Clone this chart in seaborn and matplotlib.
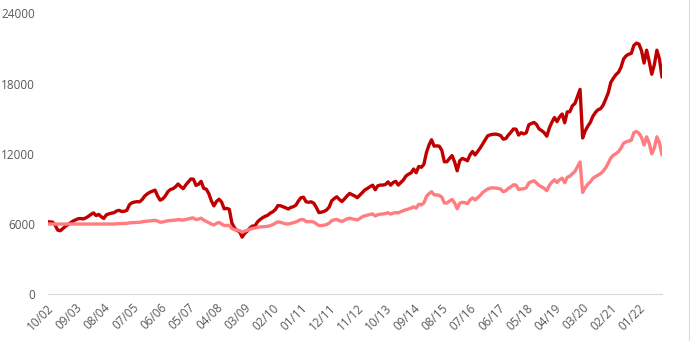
import numpy as np
import pandas as pd
import matplotlib
matplotlib.use("Agg")
import matplotlib.pyplot as plt
from matplotlib.lines import Line2D
import seaborn as sns

# Monthly portfolio values, starting October 2002
start_month = "2002-10"

growth = [
    6200, 6180, 6160, 5900, 5480, 5430, 5620, 5800, 5950, 6090,
    6260, 6360, 6460, 6470, 6440, 6530, 6660, 6830, 6950, 6720,
    6820, 6620, 6480, 6790, 6870, 6930, 6970, 7120, 7170, 7070,
    7090, 7170, 7650, 7820, 7880, 7910, 7900, 8100, 8400, 8580,
    8720, 8810, 8900, 8400, 8040, 8150, 8400, 8760, 8950, 9020,
    9180, 9420, 9200, 9020, 9340, 9600, 9850, 9830, 9300, 9400,
    9650, 9050, 8980, 8600, 7980, 7550, 7930, 8120, 7880, 7300,
    7340, 7260, 6100, 5680, 5450, 5370, 4880, 5200, 5400, 5650,
    5830, 5830, 6180, 6380, 6540, 6660, 6750, 6930, 7050, 7240,
    7580, 7560, 7480, 7390, 7280, 7420, 7480, 7610, 7970, 8250,
    8290, 7900, 7860, 7900, 7780, 7420, 6980, 7020, 7080, 7200,
    7450, 7990, 8180, 8330, 8100, 7920, 8150, 8400, 8620, 8500,
    8400, 8250, 8480, 8700, 8920, 9050, 9200, 9320, 8930, 9270,
    9330, 9330, 9380, 9600, 9320, 9550, 9650, 9330, 9550, 9770,
    10100, 10260, 10370, 10700, 10380, 10920, 10850, 11100, 12100, 12750,
    13200, 12650, 12680, 12650, 12300, 11320, 11320, 11600, 11850, 11300,
    10550, 11400, 11600, 11520, 11400, 11900, 12200, 11900, 12200, 12500,
    12850, 13220, 13550, 13620, 13670, 13680, 13640, 13550, 13250, 13300,
    13600, 13850, 14120, 14100, 13600, 13800, 13700, 13800, 14480, 14590,
    14680, 14500, 14120, 13980, 13800, 13500, 14200, 14700, 15100, 14750,
    15150, 15400, 14650, 15580, 15590, 16100, 16300, 16900, 17500, 13350,
    13950, 14350, 14680, 15200, 15530, 15760, 15850, 16150, 16660, 17200,
    18100, 18450, 18760, 18960, 19400, 20100, 20370, 20510, 20570, 21250,
    21450, 21370, 20800, 19750, 20850, 19900, 18800, 19600, 20850, 20100,
    18550,
]

balanced = [
    6000, 6000, 6000, 6000, 6000, 6000, 6000, 6000, 6000, 6000,
    6000, 6000, 6000, 6000, 6000, 6000, 6000, 6000, 6000, 6000,
    6000, 6000, 6000, 6000, 6000, 6000, 6000, 6020, 6040, 6040,
    6050, 6060, 6100, 6120, 6130, 6140, 6150, 6190, 6230, 6250,
    6270, 6290, 6320, 6250, 6160, 6180, 6230, 6280, 6300, 6320,
    6340, 6380, 6360, 6340, 6390, 6440, 6500, 6520, 6380, 6420,
    6500, 6340, 6220, 6120, 6000, 5920, 6060, 6140, 6000, 5870,
    5880, 5880, 5620, 5520, 5480, 5440, 5300, 5400, 5460, 5560,
    5620, 5660, 5720, 5750, 5770, 5780, 5810, 5860, 5950, 6080,
    6190, 6150, 6080, 6020, 6000, 6060, 6110, 6180, 6290, 6390,
    6380, 6210, 6200, 6210, 6170, 6020, 5870, 5870, 5900, 5960,
    6080, 6290, 6360, 6400, 6290, 6220, 6330, 6440, 6500, 6440,
    6400, 6350, 6480, 6630, 6710, 6760, 6820, 6860, 6690, 6800,
    6840, 6860, 6900, 6970, 6850, 6930, 6980, 6960, 7060, 7150,
    7220, 7290, 7360, 7470, 7360, 7690, 7640, 7800, 8360, 8600,
    8760, 8500, 8480, 8450, 8300, 7800, 7800, 7960, 8100, 7800,
    7300, 7780, 7860, 7830, 7740, 8050, 8240, 8060, 8250, 8450,
    8700, 8860, 9000, 9080, 9090, 9070, 9050, 8980, 8760, 8850,
    9050, 9180, 9350, 9330, 8950, 9000, 9020, 9100, 9520, 9620,
    9700, 9500, 9300, 9180, 9050, 8850, 9300, 9580, 9780, 9550,
    9780, 9920, 9530, 10000, 10080, 10300, 10500, 10900, 11300, 8700,
    9100, 9400, 9600, 9900, 10050, 10180, 10300, 10520, 10800, 11200,
    11650, 11880, 12020, 12180, 12500, 12900, 13020, 13100, 13150, 13800,
    13900, 13760, 13400, 12750, 13450, 12900, 12000, 12500, 13450, 12950,
    11900,
]

months = pd.date_range(start_month, periods=len(growth), freq="MS")
month_labels = months.strftime("%m/%y").tolist()
tick_step = 11
y_ticks = [0, 6000, 12000, 18000, 24000]

frame = pd.DataFrame({
    "step": np.arange(len(growth)),
    "growth": growth,
    "balanced": balanced,
})
long = frame.melt(id_vars="step", var_name="series", value_name="value")

sns.set_theme(style="white")
plt.rcParams["font.family"] = ["Open Sans", "DejaVu Sans"]

W, H = 690, 341
fig = plt.figure(figsize=(W / 100, H / 100), dpi=100)
left, right, top, bottom = 47.5, 662.0, 13.3, 294.3
ax = fig.add_axes([left / W, 1 - bottom / H, (right - left) / W, (bottom - top) / H])

sns.lineplot(
    data=long, x="step", y="value", hue="series",
    hue_order=["growth", "balanced"],
    palette={"growth": "#C00000", "balanced": "#FF7C80"},
    estimator=None, linewidth=2.4, legend=False, ax=ax,
)
for ln in ax.lines:
    ln.set_solid_joinstyle("round")
    ln.set_solid_capstyle("round")

ax.set_xlim(0, len(growth) - 1)
ax.set_ylim(y_ticks[0], y_ticks[-1])

tick_pos = list(range(0, len(growth), tick_step))
ax.set_xticks(tick_pos)
ax.set_xticklabels([month_labels[i] for i in tick_pos], rotation=45,
                   ha="right", va="top", rotation_mode="anchor")
ax.set_yticks(y_ticks)
ax.set_yticklabels([str(v) for v in y_ticks])

ax.tick_params(axis="both", length=0, labelsize=8.5, labelcolor="#595959")
ax.tick_params(axis="y", pad=9)
ax.tick_params(axis="x", pad=5)
ax.set_xlabel("")
ax.set_ylabel("")
ax.grid(False)

for side in ("left", "top", "right"):
    ax.spines[side].set_visible(False)
ax.spines["bottom"].set_color("#D9D9D9")
ax.spines["bottom"].set_linewidth(0.8)

# thin frame edge on the right border
fig.add_artist(Line2D([688.5 / W, 688.5 / W], [0, 1], transform=fig.transFigure,
                      color="#D9D9D9", linewidth=0.8))

fig.savefig("out.png", dpi=100)
